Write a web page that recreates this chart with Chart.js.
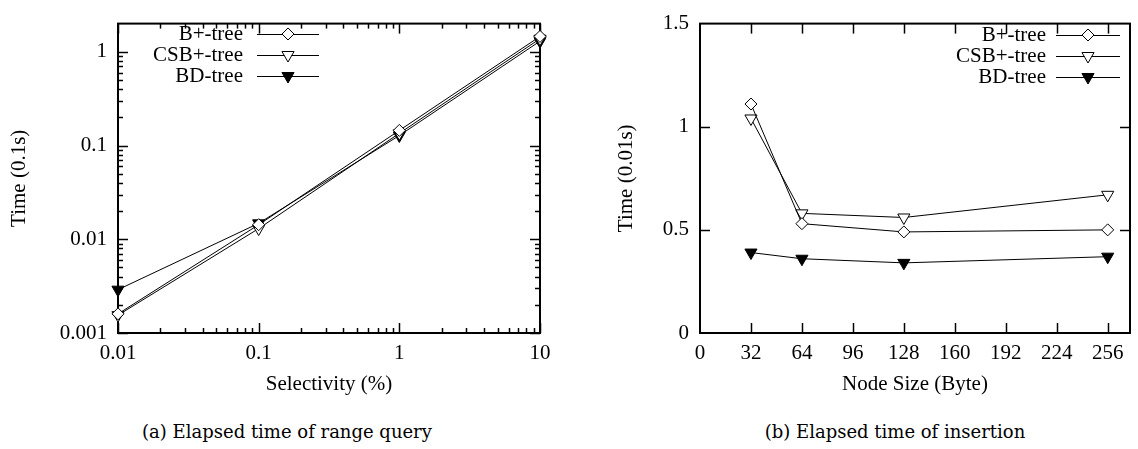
<!DOCTYPE html>
<html>
<head>
<meta charset="utf-8">
<title>Elapsed time</title>
<script src="https://cdn.jsdelivr.net/npm/chart.js@4.4.1/dist/chart.umd.min.js"></script>
<style>
	body { margin: 0; background: #fff; }
	#wrap { position: relative; width: 1138px; height: 449px; overflow: hidden; }
	canvas { position: absolute; top: 0; }
	#rangeChart { left: 0; }
	#insertChart { left: 580px; }
	.caption {
		position: absolute; top: 421px;
		font: 18px "DejaVu Serif", serif; color: #000;
		white-space: nowrap; transform: translateX(-50%);
	}
</style>
</head>
<body>
<div id="wrap">
	<canvas id="rangeChart" width="580" height="400"></canvas>
	<canvas id="insertChart" width="558" height="400"></canvas>
	<div class="caption" style="left:287px">(a) Elapsed time of range query</div>
	<div class="caption" style="left:895px">(b) Elapsed time of insertion</div>
</div>
<script>
const seriesNames = ['B+-tree', 'CSB+-tree', 'BD-tree'];

// range query: time (0.1s) vs selectivity (%)
const selectivity = [0.01, 0.1, 1, 10];
const rangeBPlus = [0.0016, 0.0143, 0.145, 1.46];
const rangeCSB = [0.00155, 0.0130, 0.135, 1.38];
const rangeBD = [0.0029, 0.0148, 0.128, 1.30];
const rangeXTicks = [0.01, 0.1, 1, 10];
const rangeXLabels = ['0.01', '0.1', '1', '10'];
const rangeYTicks = [0.001, 0.01, 0.1, 1];
const rangeYLabels = ['0.001', '0.01', '0.1', '1'];

// insertion: time (0.01s) vs node size (byte)
const nodeSize = [32, 64, 128, 256];
const insBPlus = [1.11, 0.53, 0.49, 0.50];
const insCSB = [1.04, 0.58, 0.56, 0.67];
const insBD = [0.39, 0.36, 0.34, 0.37];
const insXTicks = [0, 32, 64, 96, 128, 160, 192, 224, 256];
const insYTicks = [0, 0.5, 1, 1.5];
const insYLabels = ['0', '0.5', '1', '1.5'];

const serif = '"Liberation Serif", "Times New Roman", serif';
Chart.defaults.font.family = serif;
Chart.defaults.font.size = 21;
Chart.defaults.color = '#000';

const markers = [
	{ pointStyle: 'rectRot', radius: 6, rotation: 0, fill: '#fff' },
	{ pointStyle: 'triangle', radius: 7, rotation: 180, fill: '#fff' },
	{ pointStyle: 'triangle', radius: 7, rotation: 180, fill: '#000' }
];

function makeDatasets(xs, seriesList) {
	return seriesList.map((ys, i) => ({
		label: seriesNames[i],
		data: xs.map((x, j) => ({ x: x, y: ys[j] })),
		borderColor: '#000',
		borderWidth: 1,
		backgroundColor: markers[i].fill,
		pointStyle: markers[i].pointStyle,
		pointRadius: markers[i].radius,
		pointRotation: markers[i].rotation,
		pointBorderColor: '#000',
		pointBackgroundColor: markers[i].fill,
		pointBorderWidth: 1,
		tension: 0,
		clip: false
	}));
}

// minor ticks 2..9 inside each decade of a log axis
function logMinors(min, max) {
	const out = [];
	for (let d = Math.pow(10, Math.floor(Math.log10(min))); d < max; d *= 10) {
		for (let m = 2; m <= 9; m++) {
			const v = m * d;
			if (v > min && v < max) out.push(v);
		}
	}
	return out;
}

// gnuplot style box: border plus inward ticks on all four sides
const frameTicks = {
	id: 'frameTicks',
	beforeDatasetsDraw(chart, args, opts) {
		const { ctx, chartArea: a, scales: { x, y } } = chart;
		ctx.save();
		ctx.strokeStyle = '#000';
		ctx.lineWidth = 1.5;
		const seg = (x1, y1, x2, y2) => { ctx.beginPath(); ctx.moveTo(x1, y1); ctx.lineTo(x2, y2); ctx.stroke(); };
		const xt = (vals, len) => vals.forEach(v => {
			const px = Math.round(x.getPixelForValue(v)) + 0.5;
			seg(px, a.bottom, px, a.bottom - len);
			seg(px, a.top, px, a.top + len);
		});
		const yt = (vals, len) => vals.forEach(v => {
			const py = Math.round(y.getPixelForValue(v)) + 0.5;
			seg(a.left, py, a.left + len, py);
			seg(a.right, py, a.right - len, py);
		});
		xt(opts.xMajor, opts.major);
		xt(opts.xMinor || [], opts.minor);
		yt(opts.yMajor, opts.major);
		yt(opts.yMinor || [], opts.minor);
		ctx.lineWidth = 2;
		ctx.strokeRect(a.left, a.top, a.right - a.left, a.bottom - a.top);
		ctx.restore();
	}
};

// key drawn inside the plot: label, sample line, marker
const keyBox = {
	id: 'keyBox',
	afterDatasetsDraw(chart, args, opts) {
		const ctx = chart.ctx;
		ctx.save();
		ctx.font = '21px ' + serif;
		ctx.textAlign = 'right';
		ctx.textBaseline = 'middle';
		chart.data.datasets.forEach((ds, i) => {
			const yy = opts.top + i * opts.step;
			ctx.fillStyle = '#000';
			ctx.fillText(ds.label, opts.textRight, yy);
			ctx.strokeStyle = '#000';
			ctx.lineWidth = 1;
			ctx.beginPath();
			ctx.moveTo(opts.lineFrom, yy + 0.5);
			ctx.lineTo(opts.lineTo, yy + 0.5);
			ctx.stroke();
			ctx.fillStyle = ds.pointBackgroundColor;
			Chart.helpers.drawPoint(ctx, {
				pointStyle: ds.pointStyle,
				radius: ds.pointRadius,
				rotation: ds.pointRotation,
				borderWidth: 1
			}, (opts.lineFrom + opts.lineTo) / 2, yy);
		});
		ctx.restore();
	}
};

function fixTicks(values) {
	return scale => { scale.ticks = values.map(v => ({ value: v })); };
}

new Chart(document.getElementById('rangeChart'), {
	type: 'line',
	data: { datasets: makeDatasets(selectivity, [rangeBPlus, rangeCSB, rangeBD]) },
	options: {
		responsive: false,
		animation: false,
		layout: { padding: { left: 0, right: 40, top: 13, bottom: 0 } },
		plugins: {
			legend: { display: false },
			tooltip: { enabled: false },
			frameTicks: {
				xMajor: rangeXTicks, xMinor: logMinors(0.01, 10),
				yMajor: rangeYTicks, yMinor: logMinors(0.001, 2),
				major: 10, minor: 5
			},
			keyBox: { top: 34, step: 21, textRight: 243, lineFrom: 257, lineTo: 319 }
		},
		scales: {
			x: {
				type: 'logarithmic', min: 0.01, max: 10,
				afterBuildTicks: fixTicks(rangeXTicks),
				afterFit: s => { s.height = 67; },
				grid: { display: false, drawTicks: false },
				border: { display: false },
				ticks: { padding: 8, autoSkip: false, maxRotation: 0, callback: (v, i) => rangeXLabels[i] },
				title: { display: true, text: 'Selectivity (%)', padding: { top: 4, bottom: 3 } }
			},
			y: {
				type: 'logarithmic', min: 0.001, max: 2,
				afterBuildTicks: fixTicks(rangeYTicks),
				afterFit: s => { s.width = 118; },
				grid: { display: false, drawTicks: false },
				border: { display: false },
				ticks: { padding: 11, autoSkip: false, callback: (v, i) => rangeYLabels[i] },
				title: { display: true, text: 'Time (0.1s)', padding: { top: 7, bottom: 0 } }
			}
		}
	},
	plugins: [frameTicks, keyBox]
});

new Chart(document.getElementById('insertChart'), {
	type: 'line',
	data: { datasets: makeDatasets(nodeSize, [insBPlus, insCSB, insBD]) },
	options: {
		responsive: false,
		animation: false,
		layout: { padding: { left: 0, right: 7, top: 13, bottom: 0 } },
		plugins: {
			legend: { display: false },
			tooltip: { enabled: false },
			frameTicks: {
				xMajor: insXTicks.slice(1), yMajor: insYTicks.slice(1, -1),
				major: 10, minor: 5
			},
			keyBox: { top: 35, step: 21, textRight: 466, lineFrom: 476, lineTo: 540 }
		},
		scales: {
			x: {
				type: 'linear', min: 0, max: 270,
				afterBuildTicks: fixTicks(insXTicks),
				afterFit: s => { s.height = 67; },
				grid: { display: false, drawTicks: false },
				border: { display: false },
				ticks: { padding: 8, autoSkip: false, maxRotation: 0, callback: (v, i) => String(insXTicks[i]) },
				title: { display: true, text: 'Node Size (Byte)', padding: { top: 4, bottom: 3 } }
			},
			y: {
				type: 'linear', min: 0, max: 1.5,
				afterBuildTicks: fixTicks(insYTicks),
				afterFit: s => { s.width = 120; },
				grid: { display: false, drawTicks: false },
				border: { display: false },
				ticks: { padding: 11, autoSkip: false, callback: (v, i) => insYLabels[i] },
				title: { display: true, text: 'Time (0.01s)', padding: { top: 34, bottom: 0 } }
			}
		}
	},
	plugins: [frameTicks, keyBox]
});
</script>
</body>
</html>
